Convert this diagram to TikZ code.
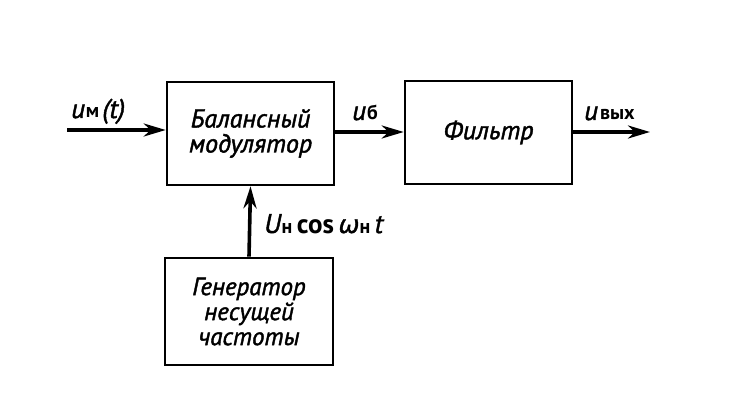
\documentclass[tikz,border=0pt]{standalone}
\usepackage{fontspec}
\setmainfont{PT Sans}[ItalicFeatures={FakeBold=1.6}]
\newfontfamily\grk{DejaVu Sans}[ItalicFeatures={FakeBold=1.2}]
\usetikzlibrary{arrows.meta}
\newcommand{\subtx}[1]{\textup{\fontsize{20}{20}\selectfont\bfseries #1}}
\begin{document}
\begin{tikzpicture}[x=1pt,y=-1pt,
  blk/.style={draw,line width=2.6pt,inner sep=0pt},
  sig/.style={line width=3.6pt,-{Stealth[length=22pt,width=13pt,inset=7pt]}},
  txt/.style={font=\fontsize{26}{25}\selectfont\itshape,align=center},
  lab/.style={font=\fontsize{27}{25}\selectfont\itshape,inner sep=0pt,anchor=base west}]
\useasboundingbox (0,0) rectangle (754,414);
\node[blk,minimum width=167pt,minimum height=103pt] (mod) at (250.5,133.5) {};
\node[blk,minimum width=167pt,minimum height=103pt] (fil) at (488.5,132.5) {};
\node[blk,minimum width=168pt,minimum height=107pt] (gen) at (249,311.5) {};
\node[txt] (modt) at (mod.center) {Балансный\\модулятор};
\node[txt] (filt) at (fil.center) {Фильтр};
\node[txt,font=\fontsize{25}{25}\selectfont\itshape,inner sep=0pt] (gent) at (gen.center) {Генератор\\несущей\\частоты};
\coordinate (in) at (67,130);
\coordinate (out) at (650,132);
\draw[sig] (in) -- (mod.west |- in);
\draw[sig] (mod.east |- 0,132) -- (fil.west |- 0,132);
\draw[sig] (fil.east |- out) -- (out);
\draw[sig] (gen.north) -- (mod.south);
\node[lab] (lu) at (71,118) {u\kern1pt\subtx{м}\kern3pt(t)};
\node[lab] (lb) at (352,120) {u\kern1pt\subtx{б}};
\node[lab] (lo) at (584,120) {u\kern2pt\subtx{вых}};
\node[lab] (lg) at (264,233) {U\subtx{н}\,\textup{\bfseries cos}\,{\grk\fontsize{25}{25}\selectfont\itshape ω}\subtx{н}\,t};
\end{tikzpicture}
\end{document}
